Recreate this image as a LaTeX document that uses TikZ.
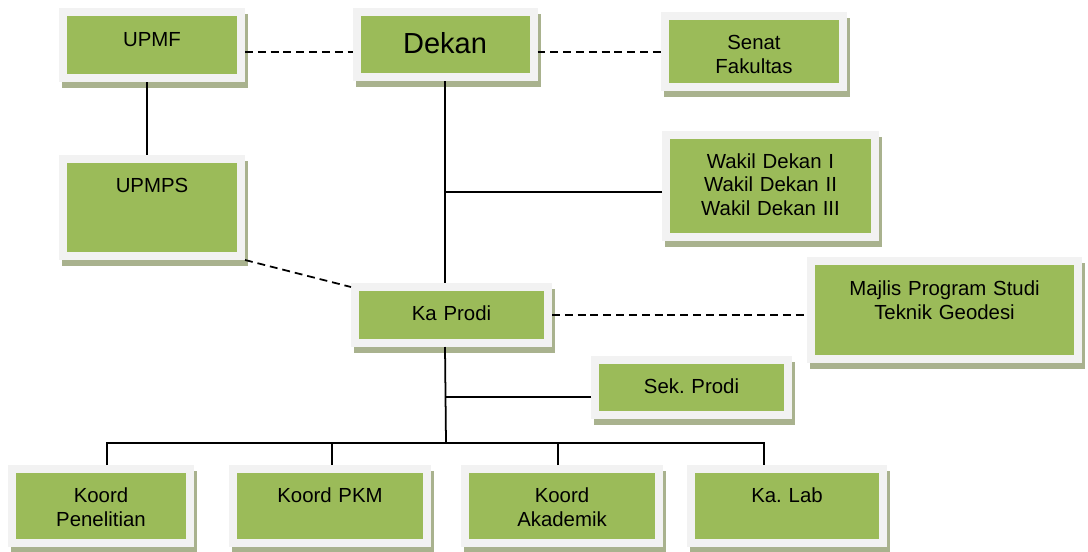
\documentclass[tikz,border=0pt]{standalone}
\usepackage{fontspec}
\setmainfont{Liberation Sans}
\usepackage{tikz}
\usetikzlibrary{shadows,calc,positioning}
\definecolor{boxgreen}{HTML}{9BBB59}
\definecolor{framegray}{HTML}{F2F2F2}
\definecolor{shadowolive}{HTML}{A9B28E}
\frenchspacing

\begin{document}
\begin{tikzpicture}[line width=1pt,
unit/.style={
fill=framegray,
inner sep=0pt,
outer sep=0pt,
align=center,
anchor=base,
font=\fontsize{11.6}{14}\selectfont,
drop shadow={shadow xshift=0.06cm,shadow yshift=-0.12cm,fill=shadowolive,opacity=1},
path picture={\fill[boxgreen] ($(path picture bounding box.south west)+(0.16cm,0.16cm)$) rectangle ($(path picture bounding box.north east)-(0.16cm,0.16cm)$);},
},
dashline/.style={dash pattern=on 4.5pt off 2.8pt}
]
\useasboundingbox (0,0) rectangle (21.76,-11.02);

\node [unit,text width=3.72cm,minimum width=3.72cm,text height=0.76cm,text depth=0.72cm] (upmf) at (3.04,-0.92) {UPMF};
\node [unit,text width=3.70cm,minimum width=3.70cm,text height=0.90cm,text depth=0.56cm,font=\fontsize{16.5}{20}\selectfont] (dekan) at (8.90,-1.06) {Dekan};
\node [unit,text width=3.72cm,minimum width=3.72cm,text height=0.74cm,text depth=0.84cm] (senat) at (15.08,-0.98) {Senat\\Fakultas};
\node [unit,text width=3.72cm,minimum width=3.72cm,text height=0.74cm,text depth=1.36cm] (upmps) at (3.04,-3.84) {UPMPS};
\node [unit,text width=4.34cm,minimum width=4.34cm,text height=0.74cm,text depth=1.46cm,font=\fontsize{11.6}{13.6}\selectfont] (wakil) at (15.41,-3.36) {Wakil Dekan I\\Wakil Dekan II\\Wakil Dekan III};
\node [unit,text width=4.02cm,minimum width=4.02cm,text height=0.74cm,text depth=0.54cm] (kaprodi) at (9.03,-6.40) {Ka Prodi};
\node [unit,text width=5.50cm,minimum width=5.50cm,text height=0.76cm,text depth=1.36cm] (majlis) at (18.89,-5.90) {Majlis Program Studi\\Teknik Geodesi};
\node [unit,text width=4.02cm,minimum width=4.02cm,text height=0.74cm,text depth=0.52cm] (sekprodi) at (13.83,-7.86) {Sek. Prodi};

% bottom row
\node [unit,text width=3.72cm,minimum width=3.72cm,text height=0.74cm,text depth=0.90cm] (penelitian) at (2.02,-10.04) {Koord\\Penelitian};
\node [unit,text width=4.04cm,minimum width=4.04cm,text height=0.74cm,text depth=0.90cm] (pkm) at (6.60,-10.04) {Koord PKM};
\node [unit,text width=4.04cm,minimum width=4.04cm,text height=0.74cm,text depth=0.90cm] (akademik) at (11.24,-10.04) {Koord\\Akademik};
\node [unit,text width=4.00cm,minimum width=4.00cm,text height=0.74cm,text depth=0.90cm] (kalab) at (15.74,-10.04) {Ka. Lab};

\coordinate (bus) at (8.92,-8.86);

\draw[dashline] ([yshift=-0.14cm]upmf.east) -- ([yshift=-0.14cm]upmf.east -| dekan.west);
\draw[dashline] ([yshift=-0.14cm]upmf.east -| dekan.east) -- ([yshift=-0.14cm]upmf.east -| senat.west);
\draw ([xshift=-0.1cm]upmf.south) -- ([xshift=-0.1cm]upmps.north);
\draw (dekan.south) -- (dekan.south |- kaprodi.north);
\draw ([yshift=-0.12cm]wakil.west) -- ([yshift=-0.12cm]wakil.west -| dekan.south);
\draw[dashline] (upmps.south east) -- ([yshift=-0.08cm]kaprodi.north west);
\draw[dashline] (kaprodi.east) -- (kaprodi.east -| majlis.west);
\draw (kaprodi.south -| dekan.south) -- (bus);
\draw ([yshift=-0.19cm]sekprodi.west) -- ([yshift=-0.19cm]sekprodi.west -| dekan.south);
\draw ([xshift=0.12cm]penelitian.north) -- ([xshift=0.12cm]penelitian.north |- bus) -- ([xshift=-0.46cm]kalab.north |- bus) -- ([xshift=-0.46cm]kalab.north);
\foreach \n/\s in {pkm/0.04cm,akademik/-0.08cm}
  \draw ([xshift=\s]\n.north) -- ([xshift=\s]\n.north |- bus);
\end{tikzpicture}
\end{document}
